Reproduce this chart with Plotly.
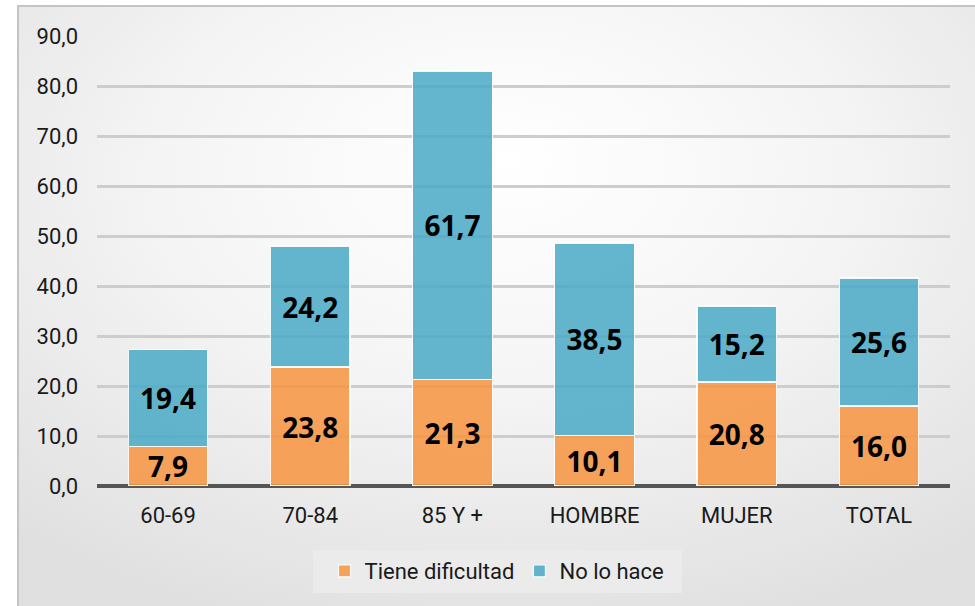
import base64
import plotly.graph_objects as go

categories = ["60-69", "70-84", "85 Y +", "HOMBRE", "MUJER", "TOTAL"]
tiene_dificultad = [7.9, 23.8, 21.3, 10.1, 20.8, 16.0]
no_lo_hace = [19.4, 24.2, 61.7, 38.5, 15.2, 25.6]
series_names = ["Tiene dificultad", "No lo hace"]
y_ticks = [0, 10, 20, 30, 40, 50, 60, 70, 80, 90]

W, H = 975, 606
L, R, T, B = 97, 25, 36, 120
pw, ph = W - L - R, H - T - B


def px_x(p):
    return (p - L) / pw


def px_y(p):
    return (H - B - p) / ph


svg = """<svg xmlns='http://www.w3.org/2000/svg' width='1000' height='620' preserveAspectRatio='none'>
<defs><radialGradient id='g' cx='0.5' cy='0.3' r='0.75' fx='0.5' fy='0.25'>
<stop offset='0' stop-color='#ffffff'/><stop offset='0.45' stop-color='#f5f5f5'/><stop offset='1' stop-color='#e0e0e0'/>
</radialGradient></defs><rect width='1000' height='620' fill='url(#g)'/></svg>"""
bg_src = "data:image/svg+xml;base64," + base64.b64encode(svg.encode()).decode()

font_main = "Roboto, Open Sans, sans-serif"
font_bold = "Open Sans, Noto Sans, sans-serif"

fig = go.Figure()
fig.add_trace(go.Bar(
    x=categories, y=tiene_dificultad, name=series_names[0],
    marker=dict(color="rgba(246,150,70,0.88)", line=dict(color="rgba(255,255,255,0.9)", width=1.2)),
    texttemplate="%{y:.1f}", textposition="inside", insidetextanchor="middle",
    textangle=0, textfont=dict(family=font_bold, size=28, color="black", weight="bold"),
))
fig.add_trace(go.Bar(
    x=categories, y=no_lo_hace, name=series_names[1],
    marker=dict(color="rgba(75,170,198,0.86)", line=dict(color="rgba(255,255,255,0.9)", width=1.2)),
    texttemplate="%{y:.1f}", textposition="inside", insidetextanchor="middle",
    textangle=0, textfont=dict(family=font_bold, size=28, color="black", weight="bold"),
))

fig.update_layout(
    width=W, height=H,
    margin=dict(l=L, r=R, t=T, b=B),
    barmode="stack", bargap=0.44,
    separators=",.",
    paper_bgcolor="white", plot_bgcolor="rgba(0,0,0,0)",
    font=dict(family=font_main, size=22, color="#1a1a1a"),
    uniformtext=dict(minsize=28, mode="show"),
    showlegend=True,
    legend=dict(orientation="h", x=px_x(497), xanchor="center", y=px_y(550), yanchor="top",
                bgcolor="rgba(0,0,0,0)", font=dict(size=22, color="#1a1a1a"),
                itemwidth=30, traceorder="normal"),
    images=[dict(source=bg_src, xref="paper", yref="paper",
                 x=px_x(18), y=px_y(6), sizex=px_x(990) - px_x(18), sizey=px_y(6) - px_y(620),
                 xanchor="left", yanchor="top", sizing="stretch", layer="below")],
    shapes=[
        dict(type="rect", xref="paper", yref="paper", x0=px_x(18), x1=px_x(990),
             y0=px_y(620), y1=px_y(6), line=dict(color="#c4c4c4", width=2), layer="below"),
        dict(type="rect", xref="paper", yref="paper", x0=px_x(313), x1=px_x(682),
             y0=px_y(593), y1=px_y(550), line=dict(width=0), fillcolor="#ebebeb", layer="below"),
    ],
)
fig.update_yaxes(range=[0, 90], tickvals=y_ticks, tickformat=".1f",
                 showgrid=True, gridcolor="#cdcdcd", gridwidth=3,
                 zeroline=True, zerolinecolor="#555555", zerolinewidth=4,
                 ticks="", ticklabelstandoff=18, showline=False, fixedrange=True)
fig.update_xaxes(showgrid=False, showline=False, ticks="", ticklabelstandoff=14, fixedrange=True)

fig.write_html("out.html", config={"displayModeBar": False},
               post_script="document.body.style.margin='0';document.body.style.overflow='hidden';")
